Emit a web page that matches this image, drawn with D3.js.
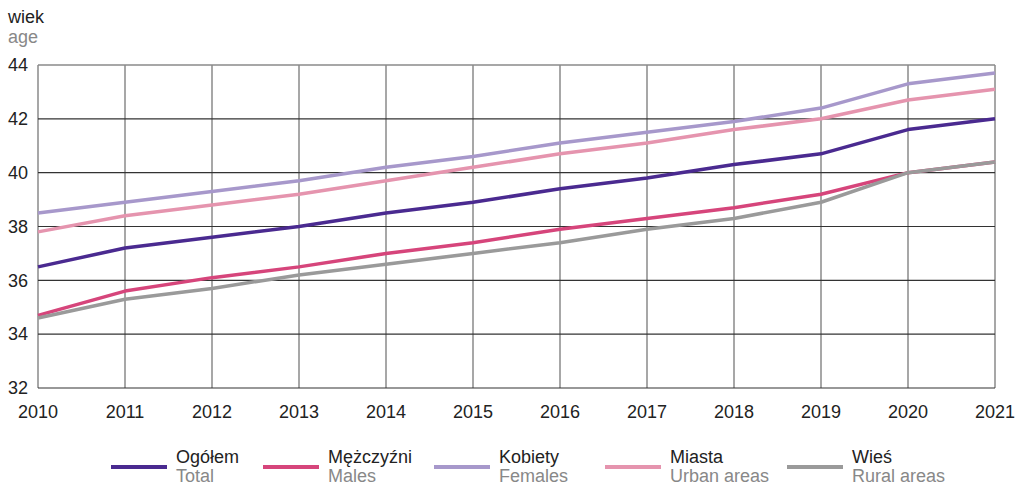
<!DOCTYPE html>
<html>
<head>
<meta charset="utf-8">
<script src="https://cdn.jsdelivr.net/npm/d3@7"></script>
<style>
  body { margin: 0; background: #fff; }
  text { font-family: "Liberation Sans", Arial, sans-serif; }
</style>
</head>
<body>
<div id="chart"></div>
<script>
// Data
var years = [2010, 2011, 2012, 2013, 2014, 2015, 2016, 2017, 2018, 2019, 2020, 2021];
var total  = [36.5, 37.2, 37.6, 38.0, 38.5, 38.9, 39.4, 39.8, 40.3, 40.7, 41.6, 42.0];
var males  = [34.7, 35.6, 36.1, 36.5, 37.0, 37.4, 37.9, 38.3, 38.7, 39.2, 40.0, 40.4];
var females = [38.5, 38.9, 39.3, 39.7, 40.2, 40.6, 41.1, 41.5, 41.9, 42.4, 43.3, 43.7];
var urban  = [37.8, 38.4, 38.8, 39.2, 39.7, 40.2, 40.7, 41.1, 41.6, 42.0, 42.7, 43.1];
var rural  = [34.6, 35.3, 35.7, 36.2, 36.6, 37.0, 37.4, 37.9, 38.3, 38.9, 40.0, 40.4];
var yTicks = [32, 34, 36, 38, 40, 42, 44];

var seriesNames = ["Ogółem", "Mężczyźni", "Kobiety", "Miasta", "Wieś"];
var seriesNamesEn = ["Total", "Males", "Females", "Urban areas", "Rural areas"];
var seriesColors = ["#4a2a90", "#d6457b", "#a798cb", "#e594ae", "#9a9a9a"];
var seriesValues = [total, males, females, urban, rural];

var svgWidth = 1015, svgHeight = 487;
var margin = { top: 65, right: 20, bottom: 99, left: 38 };
var width = svgWidth - margin.left - margin.right;
var height = svgHeight - margin.top - margin.bottom;

var svg = d3.select("#chart").append("svg")
  .attr("width", svgWidth)
  .attr("height", svgHeight);

var chartGroup = svg.append("g")
  .attr("transform", `translate(${margin.left}, ${margin.top})`);

var x = d3.scaleLinear().domain([2010, 2021]).range([0, width]);
var y = d3.scaleLinear().domain([32, 44]).range([height, 0]);

// vertical gridlines
chartGroup.selectAll(".vgrid")
  .data(years)
  .enter().append("line")
  .attr("x1", d => x(d)).attr("x2", d => x(d))
  .attr("y1", 0).attr("y2", height)
  .attr("stroke", "#8a8a8a").attr("stroke-width", 1.5);

// horizontal gridlines
chartGroup.selectAll(".hgrid")
  .data(yTicks)
  .enter().append("line")
  .attr("x1", 0).attr("x2", width)
  .attr("y1", d => y(d)).attr("y2", d => y(d))
  .attr("stroke", d => d === 44 ? "#8a8a8a" : "#333")
  .attr("stroke-width", d => d === 44 ? 1.5 : 1.2);

// y tick labels
chartGroup.selectAll(".ylab")
  .data(yTicks)
  .enter().append("text")
  .attr("x", -10)
  .attr("y", d => y(d))
  .attr("dy", "0.35em")
  .attr("text-anchor", "end")
  .attr("font-size", "18px")
  .attr("fill", "#222")
  .text(d => d);

// x tick labels
chartGroup.selectAll(".xlab")
  .data(years)
  .enter().append("text")
  .attr("x", d => x(d))
  .attr("y", height + 30)
  .attr("text-anchor", "middle")
  .attr("font-size", "18px")
  .attr("fill", "#222")
  .text(d => d);

// lines
var line = d3.line()
  .x((d, i) => x(years[i]))
  .y(d => y(d));

seriesValues.forEach(function(vals, i) {
  chartGroup.append("path")
    .datum(vals)
    .attr("fill", "none")
    .attr("stroke", seriesColors[i])
    .attr("stroke-width", 3.5)
    .attr("stroke-linejoin", "round")
    .attr("d", line);
});

// axis title
svg.append("text").attr("x", 8).attr("y", 23)
  .attr("font-size", "18px").attr("fill", "#222").text("wiek");
svg.append("text").attr("x", 8).attr("y", 43)
  .attr("font-size", "18px").attr("fill", "#888").text("age");

// legend
var legendX = [111, 263, 434, 605, 787];
var legend = svg.selectAll(".legend")
  .data(seriesNames)
  .enter().append("g")
  .attr("transform", (d, i) => `translate(${legendX[i]}, 0)`);

legend.append("line")
  .attr("x1", 0).attr("x2", 56)
  .attr("y1", 467).attr("y2", 467)
  .attr("stroke", (d, i) => seriesColors[i])
  .attr("stroke-width", 4);

legend.append("text")
  .attr("x", 65).attr("y", 463)
  .attr("font-size", "18px").attr("fill", "#222")
  .text(d => d);

legend.append("text")
  .attr("x", 65).attr("y", 482)
  .attr("font-size", "18px").attr("fill", "#888")
  .text((d, i) => seriesNamesEn[i]);
</script>
</body>
</html>
